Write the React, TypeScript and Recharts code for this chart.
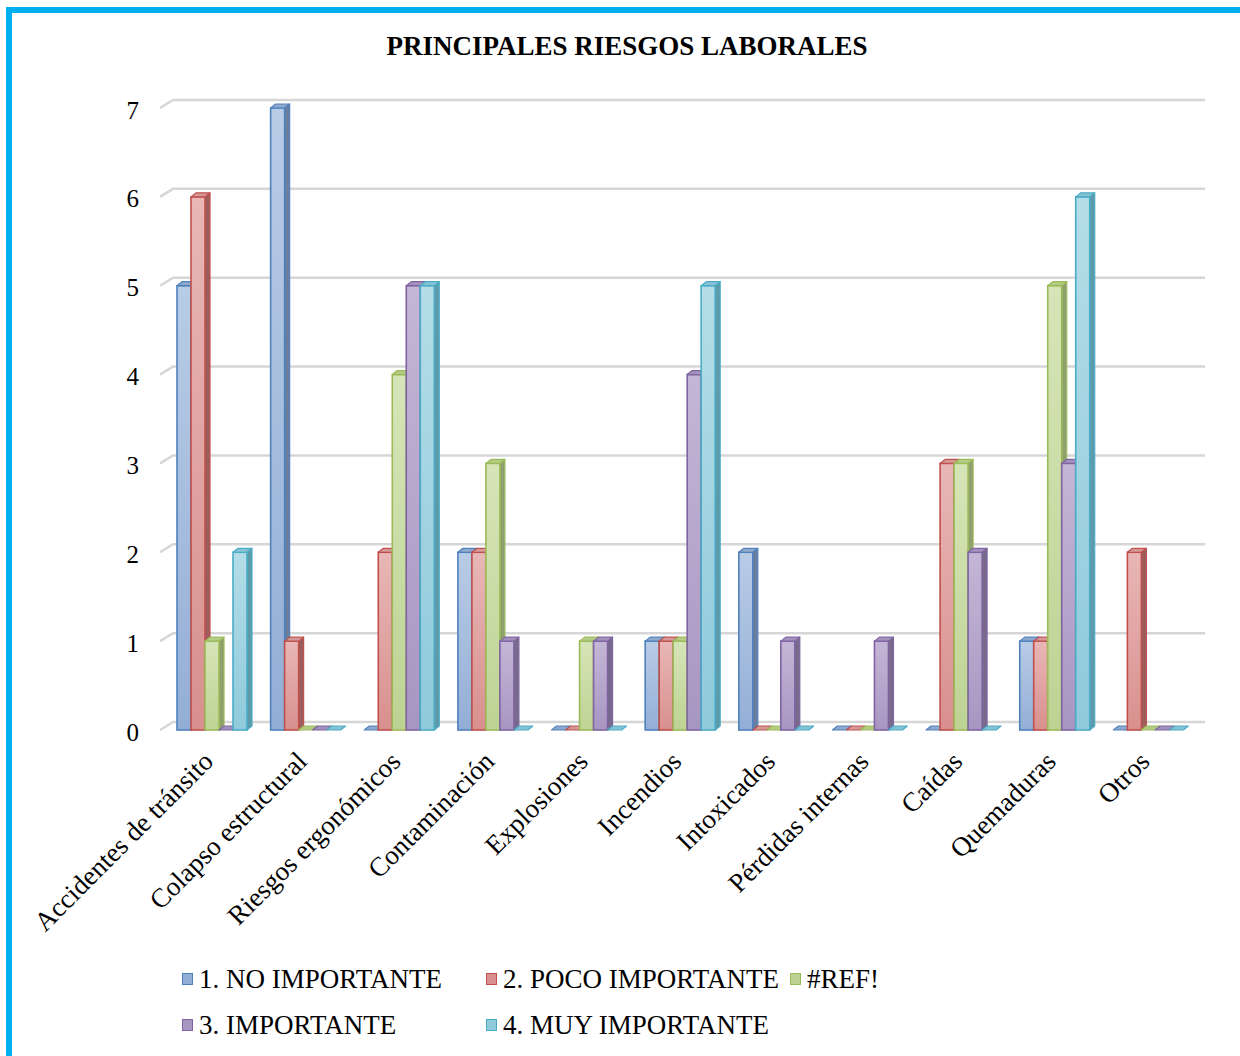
import React from 'react';
import { BarChart, Bar, XAxis, YAxis, CartesianGrid, Legend } from 'recharts';

const categories = [
  'Accidentes de tránsito',
  'Colapso estructural',
  'Riesgos ergonómicos',
  'Contaminación',
  'Explosiones',
  'Incendios',
  'Intoxicados',
  'Pérdidas internas',
  'Caídas',
  'Quemaduras',
  'Otros',
];

const noImportante = [5, 7, 0, 2, 0, 1, 2, 0, 0, 1, 0];
const pocoImportante = [6, 1, 2, 2, 0, 1, 0, 0, 3, 1, 2];
const refSeries = [1, 0, 4, 3, 1, 1, 0, 0, 3, 5, 0];
const importante = [0, 0, 5, 1, 1, 4, 1, 1, 2, 3, 0];
const muyImportante = [2, 0, 5, 0, 0, 5, 0, 0, 0, 6, 0];

const yTicks = [0, 1, 2, 3, 4, 5, 6, 7];

const seriesNames = ['1. NO IMPORTANTE', '2. POCO IMPORTANTE', '#REF!', '3. IMPORTANTE', '4. MUY IMPORTANTE'];

const data = categories.map((c, i) => ({
  name: c,
  s1: noImportante[i],
  s2: pocoImportante[i],
  s3: refSeries[i],
  s4: importante[i],
  s5: muyImportante[i],
}));

const styles = [
  { key: 's1', stroke: '#4F81BD', top: '#B9CCE6', bottom: '#93AED6', side: '#6B7E9C', topFace: '#8FA8CC' },
  { key: 's2', stroke: '#C0504D', top: '#E8B7B6', bottom: '#D8908E', side: '#9A5F5D', topFace: '#D49896' },
  { key: 's3', stroke: '#9BBB59', top: '#D6E5B8', bottom: '#BDD393', side: '#8E9F70', topFace: '#B4CB86' },
  { key: 's4', stroke: '#8064A2', top: '#C4B6D6', bottom: '#A896C2', side: '#776A8A', topFace: '#A391BD' },
  { key: 's5', stroke: '#4BACC6', top: '#B4DDE8', bottom: '#8FCADB', side: '#5F9AAA', topFace: '#86C2D3' },
];

const FONT = '"Liberation Serif", "Times New Roman", serif';
const DX = 5;
const DY = 4;

const makeShape = (si: number) => (props: any) => {
  const { x, y, width, height } = props;
  const st = styles[si];
  const w = width;
  const h = Math.max(0, height);
  const topFace = `${x},${y} ${x + DX},${y - DY} ${x + w + DX},${y - DY} ${x + w},${y}`;
  const sideFace = `${x + w},${y} ${x + w + DX},${y - DY} ${x + w + DX},${y + h - DY} ${x + w},${y + h}`;
  return (
    <g>
      {h > 0 && (
        <polygon points={sideFace} fill={st.side} stroke={st.stroke} strokeWidth={1.2} strokeLinejoin="round" />
      )}
      {h > 0 && (
        <rect x={x} y={y} width={w} height={h} fill={`url(#grad${si})`} stroke={st.stroke} strokeWidth={1.6} />
      )}
      <polygon points={topFace} fill={st.topFace} stroke={st.stroke} strokeWidth={1.2} strokeLinejoin="round" />
    </g>
  );
};

const gridLine = (props: any) => {
  const { x1, x2, y1, key } = props;
  const d = `M ${x1 - 5} ${y1} L ${x1 + 8} ${y1 - 8} L ${x2 + 10} ${y1 - 8}`;
  return <path key={key} d={d} stroke="#D6D6D6" strokeWidth={2.5} fill="none" />;
};

const YTick = (props: any) => {
  const { y, payload } = props;
  return (
    <text x={139} y={y + 2} textAnchor="end" dominantBaseline="central" fontFamily={FONT} fontSize={25} fill="#000">
      {payload.value}
    </text>
  );
};

const XTick = (props: any) => {
  const { x, payload } = props;
  const px = x + 3;
  const py = 763;
  return (
    <text
      x={px}
      y={py}
      textAnchor="end"
      fontFamily={FONT}
      fontSize={27}
      fill="#000"
      transform={`rotate(-45 ${px} ${py})`}
    >
      {payload.value}
    </text>
  );
};

const LegendContent = () => {
  const positions = [
    { left: 0, top: 0 },
    { left: 304, top: 0 },
    { left: 608, top: 0 },
    { left: 0, top: 46 },
    { left: 304, top: 46 },
  ];
  return (
    <div style={{ position: 'relative', width: 900, height: 90, fontFamily: FONT, fontSize: 27, color: '#000' }}>
      {seriesNames.map((n, i) => (
        <div
          key={n}
          style={{
            position: 'absolute',
            left: positions[i].left,
            top: positions[i].top,
            display: 'flex',
            alignItems: 'center',
            whiteSpace: 'nowrap',
            lineHeight: '30px',
          }}
        >
          <span
            style={{
              display: 'inline-block',
              width: 11,
              height: 12,
              background: styles[i].bottom,
              border: `1.5px solid ${styles[i].stroke}`,
              marginRight: 6,
              boxSizing: 'border-box',
            }}
          />
          <span>{n}</span>
        </div>
      ))}
    </div>
  );
};

export default function App() {
  return (
    <div style={{ position: 'absolute', left: 0, top: 0, width: 1240, height: 1056, overflow: 'hidden', background: '#fff' }}>
      <div
        style={{
          position: 'absolute',
          left: 6,
          top: 7,
          width: 1300,
          height: 1200,
          borderTop: '6px solid #00B0F0',
          borderLeft: '6px solid #00B0F0',
        }}
      />
      <div
        style={{
          position: 'absolute',
          left: 0,
          top: 31,
          width: 1254,
          textAlign: 'center',
          fontFamily: FONT,
          fontWeight: 'bold',
          fontSize: 27,
          color: '#000',
        }}
      >
        PRINCIPALES RIESGOS LABORALES
      </div>
      <div style={{ position: 'absolute', left: 0, top: 0 }}>
        <BarChart
          width={1240}
          height={1056}
          data={data}
          margin={{ top: 108, right: 45, bottom: 0, left: 0 }}
          barGap={0}
          barSize={14}
        >
          <defs>
            {styles.map((s, i) => (
              <linearGradient key={s.key} id={`grad${i}`} x1="0" y1="0" x2="0" y2="1">
                <stop offset="0%" stopColor={s.top} />
                <stop offset="100%" stopColor={s.bottom} />
              </linearGradient>
            ))}
          </defs>
          <CartesianGrid vertical={false} horizontal={gridLine} />
          <YAxis
            domain={[0, 7]}
            ticks={yTicks}
            width={165}
            axisLine={false}
            tickLine={false}
            tick={<YTick />}
            interval={0}
          />
          <XAxis
            dataKey="name"
            height={326}
            axisLine={false}
            tickLine={false}
            interval={0}
            tick={<XTick />}
          />
          <Legend
            layout="horizontal"
            verticalAlign="middle"
            align="center"
            content={<LegendContent />}
            wrapperStyle={{ position: 'absolute', left: 182, top: 964, width: 900, height: 90 }}
          />
          {styles.map((s, i) => (
            <Bar
              key={s.key}
              dataKey={s.key}
              name={seriesNames[i]}
              isAnimationActive={false}
              shape={makeShape(i)}
              fill={s.bottom}
            />
          ))}
        </BarChart>
      </div>
    </div>
  );
}
